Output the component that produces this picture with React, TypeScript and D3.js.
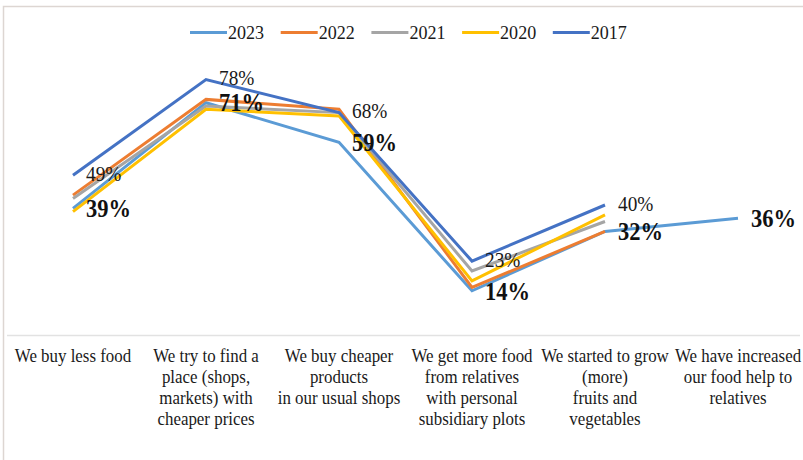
import React from "react";
import * as d3 from "d3";

const categories: string[][] = [
  ["We buy less food"],
  ["We try to find a", "place (shops,", "markets) with", "cheaper prices"],
  ["We buy cheaper", "products", "in our usual shops"],
  ["We get more food", "from relatives", "with personal", "subsidiary plots"],
  ["We started to grow", "(more)", "fruits and", "vegetables"],
  ["We have increased", "our food help to", "relatives"],
];

const years = ["2023", "2022", "2021", "2020", "2017"];
const colors = ["#5B9BD5", "#ED7D31", "#A5A5A5", "#FFC000", "#4472C4"];

const v2023 = [39, 71, 59, 14, 32, 36];
const v2022 = [43, 72, 69, 15, 32];
const v2021 = [42, 70, 68, 20, 35];
const v2020 = [38, 69, 67, 17, 37];
const v2017 = [49, 78, 68, 23, 40];

const seriesValues = [v2023, v2022, v2021, v2020, v2017];
const labelled2017 = v2017;
const labelled2023 = v2023;

const W = 803;
const H = 460;
const FONT = "Liberation Serif";

export default function App() {
  const x = d3
    .scaleBand<number>()
    .domain(d3.range(categories.length))
    .range([6.5, 804.5])
    .padding(0);
  const cx = (i: number) => (x(i) as number) + x.bandwidth() / 2;
  const y = d3.scaleLinear().domain([0, 100]).range([337, 7]);

  const line = d3
    .line<number>()
    .x((_, i) => cx(i))
    .y((d) => y(d));

  const legendX0 = 190;
  const legendStep = 90.7;
  const txt = (size: number, weight: string = "normal") => ({
    fontFamily: FONT,
    fontSize: size + "px",
    fontWeight: weight as any,
  });

  return (
    <svg
      width={W}
      height={H}
      style={{ position: "absolute", left: 0, top: 0, background: "#fff" }}
    >
      <rect x={0} y={0} width={W} height={H} fill="#fff" />
      <rect
        x={3.5}
        y={6.5}
        width={W + 20}
        height={H + 20}
        fill="none"
        stroke="#ddd6d2"
        strokeWidth={1.5}
      />
      <line
        x1={7}
        x2={800}
        y1={y(0) - 1.5}
        y2={y(0) - 1.5}
        stroke="#e2e2e2"
        strokeWidth={1.5}
      />
      {years.map((yr, i) => (
        <g key={yr} transform={`translate(${legendX0 + i * legendStep},0)`}>
          <line x1={0} x2={37} y1={32.5} y2={32.5} stroke={colors[i]} strokeWidth={3} />
          <text
            transform={`translate(38,38.5) scale(0.95,1)`}
            style={txt(19)}
            fill="#1a1a1a"
          >
            {yr}
          </text>
        </g>
      ))}
      {seriesValues.map((vals, s) => (
        <path
          key={years[s]}
          d={line(vals) || ""}
          fill="none"
          stroke={colors[s]}
          strokeWidth={3}
          strokeLinejoin="miter"
        />
      ))}
      {labelled2017.map((v, i) => (
        <text
          key={"l17" + i}
          transform={`translate(${cx(i) + 13},${y(v) + 1}) scale(0.92,1)`}
          dominantBaseline="middle"
          style={txt(21)}
          fill="#1a1a1a"
        >
          {v}%
        </text>
      ))}
      {labelled2023.map((v, i) => (
        <text
          key={"l23" + i}
          transform={`translate(${cx(i) + 13},${y(v) + 3}) scale(0.9,1)`}
          dominantBaseline="middle"
          style={txt(25, "bold")}
          fill="#111"
        >
          {v}%
        </text>
      ))}
      {categories.map((lines, i) => (
        <text
          key={"c" + i}
          transform={`translate(${cx(i)},362) scale(0.89,1)`}
          textAnchor="middle"
          style={txt(19)}
          fill="#1a1a1a"
        >
          {lines.map((ln, j) => (
            <tspan key={j} x={0} dy={j === 0 ? 0 : 21}>
              {ln}
            </tspan>
          ))}
        </text>
      ))}
    </svg>
  );
}
